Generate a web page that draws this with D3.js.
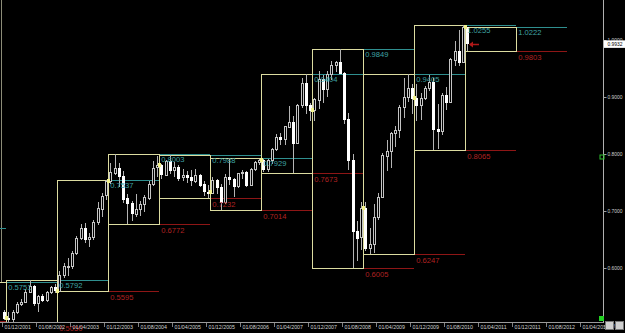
<!DOCTYPE html>
<html>
<head>
<meta charset="utf-8">
<script src="https://cdn.jsdelivr.net/npm/d3@7"></script>
<style>
html, body { margin: 0; padding: 0; background: #000; overflow: hidden; }
svg { display: block; }
</style>
</head>
<body>
<svg id="chart" width="625" height="333"></svg>
<script>
// monthly candles, first one = Dec 2001
const opens = [
    0.5230,
    0.5120, 0.5100, 0.5230, 0.5370, 0.5400, 0.5580, 0.5680, 0.5390, 0.5510, 0.5440, 0.5580, 0.5660,
    0.5600, 0.5880, 0.6030, 0.6040, 0.6270, 0.6530, 0.6710, 0.6510, 0.6540, 0.6800, 0.7050, 0.7270,
    0.7520, 0.7680, 0.7760, 0.7620, 0.7220, 0.7140, 0.6960, 0.7040, 0.7120, 0.7240, 0.7480, 0.7760,
    0.7800, 0.7640, 0.7880, 0.7720, 0.7780, 0.7590, 0.7630, 0.7600, 0.7540, 0.7640, 0.7470, 0.7340,
    0.7330, 0.7550, 0.7420, 0.7160, 0.7600, 0.7560, 0.7430, 0.7660, 0.7680, 0.7460, 0.7740, 0.7860,
    0.7890, 0.7740, 0.7890, 0.8080, 0.8290, 0.8260, 0.8490, 0.8570, 0.8200, 0.8860, 0.9250, 0.8860,
    0.8770, 0.8960, 0.9320, 0.9140, 0.9400, 0.9560, 0.9610, 0.9420, 0.8620, 0.7900, 0.6650, 0.6530,
    0.7045, 0.6350, 0.6420, 0.6900, 0.7250, 0.7980, 0.8060, 0.8370, 0.8420, 0.8820, 0.9000, 0.9160,
    0.8980, 0.8860, 0.8980, 0.9160, 0.9260, 0.8430, 0.8400, 0.9040, 0.8910, 0.9660, 0.9810, 0.9610,
    1.0220
];
const highs = [
    0.5260,
    0.5220, 0.5260, 0.5400, 0.5450, 0.5640, 0.5792, 0.5700, 0.5530, 0.5540, 0.5600, 0.5690, 0.5720,
    0.5950, 0.6090, 0.6170, 0.6290, 0.6560, 0.6780, 0.6790, 0.6610, 0.6840, 0.7150, 0.7320, 0.7537,
    0.7840, 0.8003, 0.7850, 0.7700, 0.7290, 0.7180, 0.7290, 0.7170, 0.7280, 0.7520, 0.7870, 0.7960,
    0.7820, 0.7890, 0.7988, 0.7860, 0.7800, 0.7730, 0.7700, 0.7720, 0.7730, 0.7650, 0.7520, 0.7450,
    0.7590, 0.7560, 0.7470, 0.7650, 0.7929, 0.7580, 0.7660, 0.7720, 0.7700, 0.7760, 0.7870, 0.7920,
    0.7920, 0.7920, 0.8100, 0.8350, 0.8360, 0.8500, 0.8840, 0.8660, 0.8880, 0.9330, 0.9404, 0.8890,
    0.8990, 0.9450, 0.9390, 0.9450, 0.9640, 0.9640, 0.9849, 0.9440, 0.8720, 0.8000, 0.6820, 0.7160,
    0.7160, 0.6710, 0.7120, 0.7320, 0.8010, 0.8240, 0.8390, 0.8500, 0.8860, 0.9330, 0.9405, 0.9230,
    0.9230, 0.9070, 0.9190, 0.9390, 0.9330, 0.8870, 0.9070, 0.9180, 0.9680, 0.9990, 1.0180, 1.0255,
    1.0222
];
const lows = [
    0.5080,
    0.5060, 0.5050, 0.5200, 0.5330, 0.5380, 0.5560, 0.5330, 0.5230, 0.5410, 0.5400, 0.5540, 0.5560,
    0.5595, 0.5830, 0.5860, 0.5990, 0.6230, 0.6500, 0.6430, 0.6360, 0.6500, 0.6750, 0.6900, 0.7190,
    0.7480, 0.7640, 0.7420, 0.7140, 0.6772, 0.6830, 0.6900, 0.6920, 0.6980, 0.7200, 0.7440, 0.7590,
    0.7570, 0.7620, 0.7650, 0.7600, 0.7520, 0.7530, 0.7500, 0.7440, 0.7500, 0.7420, 0.7260, 0.7232,
    0.7320, 0.7300, 0.7014, 0.7130, 0.7460, 0.7250, 0.7400, 0.7560, 0.7420, 0.7440, 0.7700, 0.7810,
    0.7690, 0.7690, 0.7820, 0.8060, 0.8150, 0.8160, 0.8480, 0.7673, 0.8180, 0.8800, 0.8710, 0.8580,
    0.8580, 0.8790, 0.8890, 0.9000, 0.9290, 0.9440, 0.9400, 0.8520, 0.7720, 0.6005, 0.6130, 0.6310,
    0.6300, 0.6247, 0.6260, 0.6840, 0.7220, 0.7700, 0.7750, 0.8130, 0.8280, 0.8630, 0.8920, 0.8700,
    0.8580, 0.8590, 0.8940, 0.9100, 0.8065, 0.8080, 0.8330, 0.8770, 0.8890, 0.9540, 0.9540, 0.9610,
    0.9803
];
const closes = [
    0.5120,
    0.5100, 0.5230, 0.5370, 0.5400, 0.5580, 0.5680, 0.5390, 0.5510, 0.5440, 0.5580, 0.5660, 0.5600,
    0.5880, 0.6030, 0.6040, 0.6270, 0.6530, 0.6710, 0.6510, 0.6540, 0.6800, 0.7050, 0.7270, 0.7520,
    0.7680, 0.7760, 0.7620, 0.7220, 0.7140, 0.6960, 0.7040, 0.7120, 0.7240, 0.7480, 0.7760, 0.7800,
    0.7640, 0.7880, 0.7720, 0.7780, 0.7590, 0.7630, 0.7600, 0.7540, 0.7640, 0.7470, 0.7340, 0.7330,
    0.7550, 0.7420, 0.7160, 0.7600, 0.7560, 0.7430, 0.7660, 0.7680, 0.7460, 0.7740, 0.7860, 0.7890,
    0.7740, 0.7890, 0.8080, 0.8290, 0.8260, 0.8490, 0.8570, 0.8200, 0.8860, 0.9250, 0.8860, 0.8770,
    0.8960, 0.9320, 0.9140, 0.9400, 0.9560, 0.9610, 0.9420, 0.8620, 0.7900, 0.6650, 0.6530, 0.7045,
    0.6350, 0.6420, 0.6900, 0.7250, 0.7980, 0.8060, 0.8370, 0.8420, 0.8820, 0.9000, 0.9160, 0.8980,
    0.8860, 0.8980, 0.9160, 0.9260, 0.8430, 0.8400, 0.9040, 0.8910, 0.9660, 0.9810, 0.9610, 1.0220,
    0.9932
];

// yearly ranges (box = the year, lines = previous year's high / low)
const years = [2000, 2001, 2002, 2003, 2004, 2005, 2006, 2007, 2008, 2009, 2010, 2011];
const yearHighs = [0.6700, 0.5751, 0.5792, 0.7537, 0.8003, 0.7988, 0.7929, 0.9404, 0.9849, 0.9405, 1.0255, 1.0222];
const yearLows = [0.5065, 0.4775, 0.5050, 0.5595, 0.6772, 0.7232, 0.7014, 0.7673, 0.6005, 0.6247, 0.8065, 0.9803];

const dateLabels = [
    "01/12/2001", "01/08/2002", "01/04/2003", "01/12/2003", "01/08/2004", "01/04/2005",
    "01/12/2005", "01/08/2006", "01/04/2007", "01/12/2007", "01/08/2008", "01/04/2009",
    "01/12/2009", "01/08/2010", "01/04/2011", "01/12/2011", "01/08/2012", "01/04/2013"
];
const priceTicks = [1.0, 0.9, 0.8, 0.7, 0.6, 0.499];
const lastPrice = 0.9932;

const BOX = "#dcdca0", TEAL = "#2f8f8f", TEAL_TXT = "#3fa3a3", RED = "#8e1616", RED_TXT = "#b02222";

const svg = d3.select("#chart");
const W = 625, H = 333, axisX = 603.5, axisY = 322.5;

svg.append("rect").attr("width", W).attr("height", H).attr("fill", "#000");

const x = d3.scaleLinear().domain([0, 136]).range([2, 580]);
const y = d3.scaleLinear().domain([0.5, 1.0]).range([325, 40]);
const janIndex = yr => (yr - 2002) * 12 + 1;

const defs = svg.append("defs");
defs.append("clipPath").attr("id", "plot").append("rect")
    .attr("x", 0).attr("y", 0).attr("width", axisX).attr("height", axisY);

const plot = svg.append("g").attr("clip-path", "url(#plot)").attr("shape-rendering", "crispEdges");
const labels = svg.append("g").attr("font-family", "Liberation Sans, Arial, sans-serif");

// faint line at the left edge
plot.append("line")
    .attr("x1", 1.5).attr("x2", 1.5)
    .attr("y1", 0).attr("y2", Math.round(y(yearHighs[1])) + 0.5)
    .attr("stroke", "#8c8c78");

// previous-year high (teal) and low (red) levels
years.forEach((yr, k) => {
    const x0 = x(janIndex(yr + 1)), x1 = x(janIndex(yr + 2));
    const yh = Math.round(y(yearHighs[k])) + 0.5;
    const yl = Math.round(y(yearLows[k])) + 0.5;
    plot.append("line").attr("x1", x0).attr("x2", x1).attr("y1", yh).attr("y2", yh).attr("stroke", TEAL);
    plot.append("line").attr("x1", x0).attr("x2", x1).attr("y1", yl).attr("y2", yl).attr("stroke", RED);
    // labels that fall outside the window are not drawn
    if (x0 < 0) return;
    if (yh + 8 < H) {
        labels.append("text").attr("x", x0 + 2).attr("y", yh + 7.5)
            .attr("font-size", "7.6px").attr("fill", TEAL_TXT).text(yearHighs[k].toFixed(4));
    }
    if (yl + 8 < H) {
        labels.append("text").attr("x", x0 + 2).attr("y", yl + 8)
            .attr("font-size", "7.6px").attr("fill", RED_TXT).text(yearLows[k].toFixed(4));
    }
});

// yearly boxes
years.slice(1).forEach((yr, k) => {
    const x0 = Math.round(x(janIndex(yr))) + 0.5, x1 = Math.round(x(janIndex(yr + 1))) + 0.5;
    const yt = Math.round(y(yearHighs[k + 1])) + 0.5, yb = Math.round(y(yearLows[k + 1])) + 0.5;
    plot.append("rect")
        .attr("x", x0).attr("y", yt).attr("width", x1 - x0).attr("height", yb - yt)
        .attr("fill", "none").attr("stroke", BOX).attr("stroke-width", 1);
});

// candles
const candles = plot.append("g").selectAll("g")
    .data(d3.range(opens.length))
    .join("g");

candles.append("line")
    .attr("x1", i => Math.round(x(i + 0.5)) + 0.5)
    .attr("x2", i => Math.round(x(i + 0.5)) + 0.5)
    .attr("y1", i => y(highs[i]))
    .attr("y2", i => y(lows[i]))
    .attr("stroke", "#b4b4b4");

candles.append("rect")
    .attr("x", i => Math.round(x(i + 0.5)) - 1 + 0.5)
    .attr("width", 2)
    .attr("y", i => Math.round(y(Math.max(opens[i], closes[i]))) + 0.5)
    .attr("height", i => Math.max(1, Math.round(Math.abs(y(opens[i]) - y(closes[i])))))
    .attr("fill", i => closes[i] >= opens[i] ? "#000" : "#fff")
    .attr("stroke", i => closes[i] >= opens[i] ? "#c4c4c4" : "#fff");

// year-open markers
years.slice(2).forEach(yr => {
    const i = janIndex(yr);
    plot.append("rect")
        .attr("x", Math.round(x(i)) - 1).attr("y", Math.round(y(opens[i])) - 2)
        .attr("width", 3).attr("height", 4)
        .attr("fill", "#f2f28c");
});

// red arrow at the last price
const li = opens.length - 1;
const ax = Math.round(x(li + 0.5)) + 2, ay = Math.round(y(lastPrice)) + 0.5;
svg.append("line").attr("x1", ax + 1).attr("x2", ax + 10).attr("y1", ay).attr("y2", ay)
    .attr("stroke", "#b01818").attr("stroke-width", 1.5);
svg.append("path")
    .attr("d", `M${ax},${ay} l4,-3 l0,6 z`)
    .attr("fill", "#b01818");

// axes frame
svg.append("line").attr("x1", 0).attr("x2", axisX).attr("y1", axisY).attr("y2", axisY)
    .attr("stroke", "#9a9a9a").attr("shape-rendering", "crispEdges");
svg.append("line").attr("x1", axisX).attr("x2", axisX).attr("y1", 0).attr("y2", axisY)
    .attr("stroke", "#b0b0b0").attr("shape-rendering", "crispEdges");

// bottom date axis
const xAxis = d3.axisBottom(x)
    .tickValues(d3.range(0, 137, 8))
    .tickFormat((d, i) => dateLabels[i])
    .tickSize(4)
    .tickPadding(1);
const gx = svg.append("g").attr("transform", `translate(0,${axisY})`).call(xAxis);
gx.select(".domain").remove();
gx.selectAll("line").attr("stroke", "#808080").attr("shape-rendering", "crispEdges");
gx.selectAll("text")
    .attr("text-anchor", "start").attr("dx", "2px").attr("dy", "0.3em")
    .attr("font-family", "Liberation Sans, Arial, sans-serif")
    .attr("font-size", "5.3px").attr("fill", "#d0d0d0");

// right price axis
const yAxis = d3.axisRight(y)
    .tickValues(priceTicks)
    .tickFormat(d3.format(".4f"))
    .tickSize(3)
    .tickPadding(1);
const gy = svg.append("g").attr("transform", `translate(${axisX},0)`).call(yAxis);
gy.select(".domain").remove();
gy.selectAll("line").attr("stroke", "#a0a0a0");
gy.selectAll("text")
    .attr("font-family", "Liberation Sans, Arial, sans-serif")
    .attr("font-size", "4.9px").attr("fill", "#d0d0d0");

// last price tag
const ly = y(lastPrice);
svg.append("rect").attr("x", axisX + 0.5).attr("y", ly - 3.5).attr("width", 22).attr("height", 7.5)
    .attr("fill", "#fff");
svg.append("text").attr("x", axisX + 4).attr("y", ly + 2)
    .attr("font-family", "Liberation Sans, Arial, sans-serif")
    .attr("font-size", "4.9px").attr("fill", "#000").text(lastPrice.toFixed(4));

// small terminal markers
svg.append("rect").attr("x", 600).attr("y", Math.round(y(0.8)) + 1).attr("width", 4).attr("height", 4)
    .attr("fill", "none").attr("stroke", "#2ec02e");
svg.append("rect").attr("x", 599).attr("y", 316).attr("width", 5).attr("height", 5).attr("fill", "#22d022");
svg.append("rect").attr("x", 605.5).attr("y", 321.5).attr("width", 8).attr("height", 8)
    .attr("fill", "#cfcfcf").attr("stroke", "#777");
svg.append("rect").attr("x", 615.5).attr("y", 321.5).attr("width", 8).attr("height", 8)
    .attr("fill", "#cfcfcf").attr("stroke", "#777");
</script>
</body>
</html>
